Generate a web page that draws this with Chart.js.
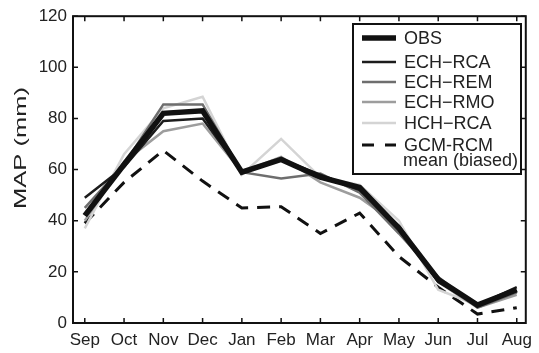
<!DOCTYPE html>
<html>
<head>
<meta charset="utf-8">
<script src="https://cdn.jsdelivr.net/npm/chart.js@4/dist/chart.umd.min.js"></script>
<style>
  html, body { margin: 0; padding: 0; background: #fff; }
  #wrap { width: 539px; height: 353px; }
</style>
</head>
<body>
<div id="wrap"><canvas id="myChart1" width="539" height="353"></canvas></div>
<script>
// meses y valores (mm)
const meses = ['Sep', 'Oct', 'Nov', 'Dec', 'Jan', 'Feb', 'Mar', 'Apr', 'May', 'Jun', 'Jul', 'Aug'];
const yTicks = [0, 20, 40, 60, 80, 100, 120];

const obs    = [42, 62, 82, 83, 59, 64, 57, 53, 37, 17, 7, 13];
const echRca = [49, 61, 79, 80, 59, 64, 58, 52, 38, 16, 7, 14];
const echRem = [45, 62, 85.5, 85.5, 59, 56.5, 58.5, 51, 35, 18, 6, 12];
const echRmo = [40, 63, 75, 78, 59, 65, 55, 49, 38, 16, 6, 11];
const hchRca = [37, 66, 84, 88.5, 58, 72, 57, 54, 40, 13, 7, 12];
const gcmMean = [39, 55, 67.5, 55.5, 45, 45.5, 35, 43, 26, 14, 3.5, 6];

const series = [
  { label: 'OBS', data: obs, color: '#111111', width: 5.5, dash: [] },
  { label: 'ECH\u2212RCA', data: echRca, color: '#1c1c1c', width: 2.5, dash: [] },
  { label: 'ECH\u2212REM', data: echRem, color: '#6e6e6e', width: 2.5, dash: [] },
  { label: 'ECH\u2212RMO', data: echRmo, color: '#9d9d9d', width: 2.5, dash: [] },
  { label: 'HCH\u2212RCA', data: hchRca, color: '#d4d4d4', width: 2.5, dash: [] },
  { label: 'GCM-RCM', label2: 'mean (biased)', data: gcmMean, color: '#111111', width: 3, dash: [13, 9] }
];

const FONT = '"Liberation Sans", Arial, Helvetica, sans-serif';

// caja, marcas hacia adentro, titulo y leyenda
const boxPlugin = {
  id: 'boxPlugin',
  afterDraw(chart) {
    const c = chart.ctx;
    const a = chart.chartArea;
    const xs = chart.scales.x, ys = chart.scales.y;
    c.save();
    c.strokeStyle = '#111';
    c.lineWidth = 2;
    c.strokeRect(a.left, a.top, a.right - a.left, a.bottom - a.top);
    c.lineWidth = 1.5;
    c.beginPath();
    for (let i = 1; i <= meses.length; i++) {
      const px = xs.getPixelForValue(i);
      c.moveTo(px, a.bottom); c.lineTo(px, a.bottom - 5);
      c.moveTo(px, a.top); c.lineTo(px, a.top + 5);
    }
    yTicks.forEach(v => {
      const py = ys.getPixelForValue(v);
      c.moveTo(a.left, py); c.lineTo(a.left + 5, py);
      c.moveTo(a.right, py); c.lineTo(a.right - 5, py);
    });
    c.stroke();

    // titulo eje y (estirado como en el original)
    c.fillStyle = '#222';
    c.font = '17px ' + FONT;
    const tw = c.measureText('MAP (mm)').width;
    c.translate(21, 148);
    c.rotate(-Math.PI / 2);
    c.scale(122 / tw, 1);
    c.textAlign = 'center';
    c.textBaseline = 'middle';
    c.fillText('MAP (mm)', 0, 0);
    c.setTransform(1, 0, 0, 1, 0, 0);

    // leyenda
    const lx = 353, ly = 24, lw = 168, lh = 150;
    c.fillStyle = '#fff';
    c.fillRect(lx, ly, lw, lh);
    c.strokeStyle = '#111';
    c.lineWidth = 2;
    c.strokeRect(lx, ly, lw, lh);
    const rows = [38, 62, 82, 102, 123, 145];
    c.font = '18px ' + FONT;
    c.textAlign = 'left';
    c.textBaseline = 'middle';
    series.forEach((s, i) => {
      const y = rows[i];
      c.strokeStyle = s.color;
      c.lineWidth = s.width;
      c.setLineDash(s.dash.length ? [12, 11] : []);
      c.beginPath();
      c.moveTo(362, y); c.lineTo(396, y);
      c.stroke();
      c.setLineDash([]);
      c.fillStyle = '#222';
      c.fillText(s.label, 404, y + 1);
      if (s.label2) c.fillText(s.label2, 403, y + 16);
    });
    c.restore();
  }
};

const ctx = document.getElementById('myChart1');

new Chart(ctx, {
  type: 'line',
  data: {
    datasets: series.map(s => ({
      label: s.label,
      data: s.data.map((v, i) => ({ x: i + 1, y: v })),
      borderColor: s.color,
      backgroundColor: s.color,
      borderWidth: s.width,
      borderDash: s.dash,
      pointRadius: 0,
      tension: 0,
      fill: false
    }))
  },
  options: {
    responsive: false,
    animation: false,
    devicePixelRatio: 1,
    layout: { padding: { top: 15, right: 6, left: 0, bottom: 0 } },
    plugins: {
      legend: { display: false },
      tooltip: { enabled: false },
      title: { display: false }
    },
    scales: {
      x: {
        type: 'linear',
        min: 0.7,
        max: 12.23,
        afterBuildTicks: (scale) => {
          scale.ticks = meses.map((m, i) => ({ value: i + 1 }));
        },
        afterFit: (scale) => { scale.height = 30; },
        grid: { display: false, drawTicks: false },
        border: { display: false },
        ticks: {
          padding: 7,
          color: '#222',
          font: { family: FONT, size: 17 },
          maxRotation: 0,
          autoSkip: false,
          callback: (v) => meses[Math.round(v) - 1] || ''
        }
      },
      y: {
        min: 0,
        max: 120,
        afterBuildTicks: (scale) => {
          scale.ticks = yTicks.map(v => ({ value: v }));
        },
        afterFit: (scale) => { scale.width = 73; },
        grid: { display: false, drawTicks: false },
        border: { display: false },
        ticks: {
          padding: 6,
          color: '#222',
          font: { family: FONT, size: 17 }
        }
      }
    }
  },
  plugins: [boxPlugin]
});
</script>
</body>
</html>
